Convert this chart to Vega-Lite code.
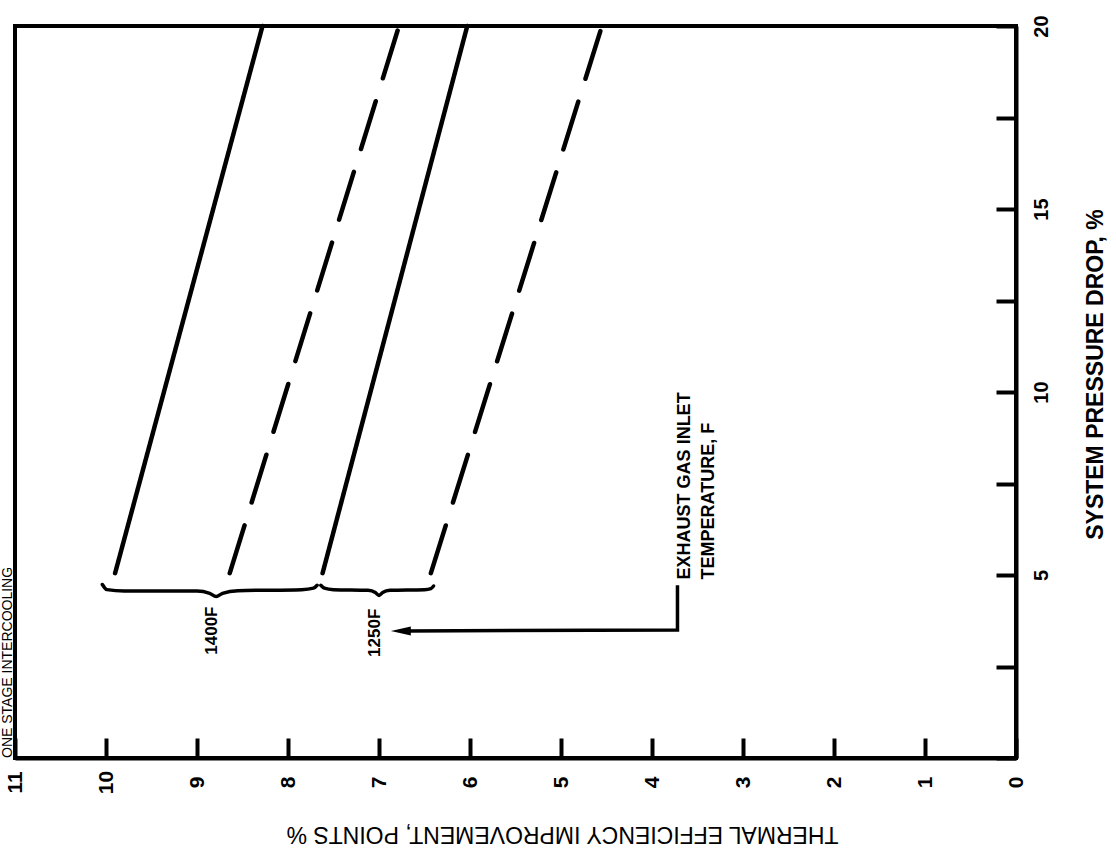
{
  "$schema": "https://vega.github.io/schema/vega-lite/v6.json",
  "autosize": "none",
  "width": 1001,
  "height": 732,
  "padding": {"left": 15, "top": 26, "right": 100, "bottom": 95},
  "background": "white",
  "title": {"text": "ONE STAGE INTERCOOLING", "orient": "left", "anchor": "start", "frame": "group", "offset": -11, "fontSize": 14, "fontWeight": "normal", "font": "Liberation Sans", "color": "#000000"},
  "config": {
    "font": "Liberation Sans",
    "title": {"color": "#000000"},
    "view": {"stroke": "black", "strokeWidth": 4},
    "axis": {"grid": false, "domainColor": "black", "domainWidth": 4, "tickColor": "black", "tickWidth": 4, "tickSize": -20, "labelColor": "black", "titleColor": "black", "labelFont": "Liberation Sans", "titleFont": "Liberation Sans"}
  },
  "datasets": {
    "curves": [
      {"series": "1400F-solid", "dash": "solid", "eff": 9.9, "p": 5.05},
      {"series": "1400F-solid", "dash": "solid", "eff": 8.28, "p": 20},
      {"series": "1400F-dashed", "dash": "dashed", "eff": 8.64, "p": 5.05},
      {"series": "1400F-dashed", "dash": "dashed", "eff": 6.78, "p": 20},
      {"series": "1250F-solid", "dash": "solid", "eff": 7.62, "p": 5.05},
      {"series": "1250F-solid", "dash": "solid", "eff": 6.03, "p": 20},
      {"series": "1250F-dashed", "dash": "dashed", "eff": 6.43, "p": 5.05},
      {"series": "1250F-dashed", "dash": "dashed", "eff": 4.55, "p": 20}
    ],
    "braces": [
      {"brace": "1400F", "k": 0, "eff": 10.04, "p": 4.74},
      {"brace": "1400F", "k": 1, "eff": 9.99, "p": 4.6},
      {"brace": "1400F", "k": 2, "eff": 9.8, "p": 4.56},
      {"brace": "1400F", "k": 3, "eff": 9.0, "p": 4.56},
      {"brace": "1400F", "k": 4, "eff": 8.86, "p": 4.5},
      {"brace": "1400F", "k": 5, "eff": 8.79, "p": 4.41},
      {"brace": "1400F", "k": 6, "eff": 8.72, "p": 4.5},
      {"brace": "1400F", "k": 7, "eff": 8.55, "p": 4.57},
      {"brace": "1400F", "k": 8, "eff": 7.85, "p": 4.6},
      {"brace": "1400F", "k": 9, "eff": 7.72, "p": 4.64},
      {"brace": "1400F", "k": 10, "eff": 7.68, "p": 4.72},
      {"brace": "1250F", "k": 0, "eff": 7.64, "p": 4.72},
      {"brace": "1250F", "k": 1, "eff": 7.6, "p": 4.64},
      {"brace": "1250F", "k": 2, "eff": 7.5, "p": 4.6},
      {"brace": "1250F", "k": 3, "eff": 7.12, "p": 4.58},
      {"brace": "1250F", "k": 4, "eff": 7.04, "p": 4.52},
      {"brace": "1250F", "k": 5, "eff": 7.0, "p": 4.44},
      {"brace": "1250F", "k": 6, "eff": 6.96, "p": 4.52},
      {"brace": "1250F", "k": 7, "eff": 6.88, "p": 4.58},
      {"brace": "1250F", "k": 8, "eff": 6.5, "p": 4.6},
      {"brace": "1250F", "k": 9, "eff": 6.43, "p": 4.63},
      {"brace": "1250F", "k": 10, "eff": 6.4, "p": 4.7}
    ],
    "arrow": [
      {"k": 0, "eff": 3.72, "p": 4.72},
      {"k": 1, "eff": 3.72, "p": 3.5},
      {"k": 2, "eff": 6.7, "p": 3.47}
    ],
    "arrowhead": [{"eff": 6.76, "p": 3.47}],
    "temps": [
      {"label": "1400F", "eff": 8.84, "p": 3.48},
      {"label": "1250F", "eff": 7.04, "p": 3.42}
    ],
    "note": [{"label": "EXHAUST GAS INLET\nTEMPERATURE, F", "eff": 3.64, "p": 4.88}]
  },
  "encoding": {
    "x": {"field": "eff", "type": "quantitative", "scale": {"domain": [0, 11], "reverse": true, "nice": false, "zero": false},
      "axis": {"orient": "bottom", "values": [0,1,2,3,4,5,6,7,8,9,10,11], "labelAngle": 270, "labelAlign": "center", "labelBaseline": "middle", "labelPadding": 44, "labelFlush": false, "labelOverlap": false, "labelFontSize": 21, "labelFontWeight": "bold",
        "title": "THERMAL EFFICIENCY IMPROVEMENT, POINTS %", "titleAngle": 180, "titleX": 547, "titleY": 75, "titleAlign": "center", "titleBaseline": "middle", "titleFontSize": 23, "titleFontWeight": "normal"}},
    "y": {"field": "p", "type": "quantitative", "scale": {"domain": [0, 20], "nice": false, "zero": false},
      "axis": {"orient": "right", "values": [0,2.5,5,7.5,10,12.5,15,17.5,20], "labelExpr": "datum.value % 5 === 0 && datum.value > 0 ? datum.label : ''", "labelAngle": 270, "labelAlign": "center", "labelBaseline": "middle", "labelPadding": 45, "labelFlush": false, "labelOverlap": false, "labelFontSize": 20, "labelFontWeight": "bold",
        "title": "SYSTEM PRESSURE DROP, %", "titleAngle": 270, "titleX": 79, "titleY": 348, "titleAlign": "center", "titleBaseline": "middle", "titleFontSize": 23, "titleFontWeight": "bold"}}
  },
  "layer": [
    {
      "data": {"name": "curves"},
      "mark": {"type": "line", "color": "black", "strokeWidth": 4.5, "strokeCap": "round"},
      "encoding": {
        "detail": {"field": "series"},
        "order": {"field": "p", "type": "quantitative"},
        "strokeDash": {"field": "dash", "type": "nominal", "scale": {"domain": ["solid", "dashed"], "range": [[1, 0], [50, 24]]}, "legend": null}
      }
    },
    {
      "data": {"name": "braces"},
      "mark": {"type": "line", "color": "black", "strokeWidth": 3.5, "strokeCap": "round", "interpolate": "monotone"},
      "encoding": {
        "detail": {"field": "brace"},
        "order": {"field": "k", "type": "quantitative"}
      }
    },
    {
      "data": {"name": "arrow"},
      "mark": {"type": "line", "color": "black", "strokeWidth": 3.5, "strokeJoin": "miter"},
      "encoding": {
        "order": {"field": "k", "type": "quantitative"}
      }
    },
    {
      "data": {"name": "arrowhead"},
      "mark": {"type": "point", "shape": "M-1,0L1,-0.45L1,0.45Z", "filled": true, "color": "black", "opacity": 1, "size": 400}
    },
    {
      "data": {"name": "temps"},
      "mark": {"type": "text", "angle": 270, "align": "center", "baseline": "middle", "fontSize": 17, "fontWeight": "bold", "color": "black"},
      "encoding": {"text": {"field": "label"}}
    },
    {
      "data": {"name": "note"},
      "mark": {"type": "text", "angle": 270, "align": "left", "baseline": "middle", "lineBreak": "\n", "lineHeight": 24, "fontSize": 18, "fontWeight": "bold", "color": "black"},
      "encoding": {"text": {"field": "label"}}
    }
  ]
}
